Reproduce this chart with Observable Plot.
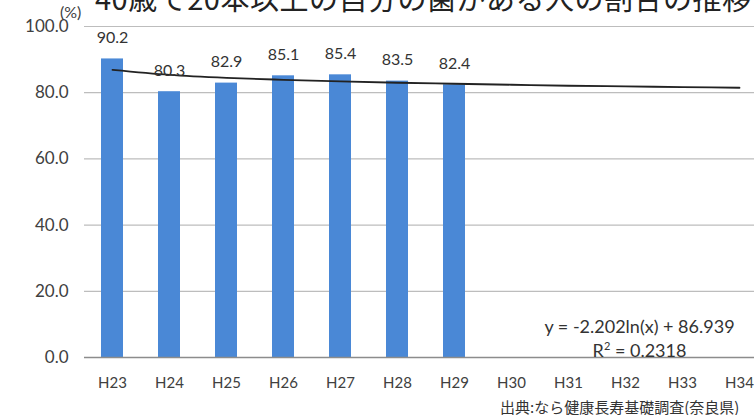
<!DOCTYPE html>
<html>
<head>
<meta charset="utf-8">
<script src="https://cdn.jsdelivr.net/npm/d3@7"></script>
<script src="https://cdn.jsdelivr.net/npm/@observablehq/plot@0.6"></script>
<style>
  html, body { margin: 0; padding: 0; background: #fff; overflow: hidden; }
  #wrap { position: relative; width: 754px; height: 415px; overflow: hidden; font-family: Lato, "Noto Sans CJK JP", sans-serif; color: #404040; }
  #title { position: absolute; left: 95px; top: -24px; font-size: 29px; white-space: nowrap; font-family: "Noto Sans CJK JP", sans-serif; color: #222; letter-spacing: 0.5px; }
  #chart { position: absolute; left: 0; top: 0; width: 780px; }
  #chart svg { max-width: none !important; }
  #caption { position: absolute; left: 500px; top: 396px; font-size: 15px; white-space: nowrap; font-family: "Noto Sans CJK JP", sans-serif; color: #333; }
  #unit { position: absolute; left: 60px; top: 2px; font-size: 16px; color: #404040; }
  #eq { position: absolute; left: 537px; top: 316px; width: 205px; font-size: 18px; text-align: center; color: #333; line-height: 20px; white-space: nowrap; }
</style>
</head>
<body>
<div id="wrap">
  <div id="title">40歳で20本以上の自分の歯がある人の割合の推移</div>
  <div id="chart"></div>
  <div id="unit">(%)</div>
  <div id="eq">y = -2.202ln(x) + 86.939<br>R<sup style="font-size:11px">2</sup> = 0.2318</div>
  <div id="caption">出典:なら健康長寿基礎調査(奈良県)</div>
</div>
<script>
const categories = ["H23","H24","H25","H26","H27","H28","H29","H30","H31","H32","H33","H34"];
const barYears = ["H23","H24","H25","H26","H27","H28","H29"];
const barValues = [90.2, 80.3, 82.9, 85.1, 85.4, 83.5, 82.4];
const trendValues = [86.9, 85.4, 84.5, 83.9, 83.4, 83.0, 82.7, 82.4, 82.1, 81.9, 81.7, 81.5];
const yTicks = [0, 20, 40, 60, 80, 100];

const bars = barYears.map((c, i) => ({cat: c, value: barValues[i]}));
const trend = categories.map((c, i) => ({cat: c, value: trendValues[i]}));

const chart = Plot.plot({
  width: 780,
  height: 400,
  marginLeft: 84,
  marginRight: 12,
  marginTop: 26,
  marginBottom: 43,
  style: {fontFamily: "Lato, sans-serif", color: "#404040", background: "transparent", maxWidth: "none"},
  x: {domain: categories, paddingInner: 0.614, paddingOuter: 0.307, label: null},
  y: {domain: [0, 100], label: null},
  marks: [
    Plot.ruleY(yTicks.slice(1), {stroke: "#bdbdbd", strokeWidth: 1.2}),
    Plot.barY(bars, {x: "cat", y: "value", fill: "#4a88d6"}),
    Plot.ruleY([0], {stroke: "#8c8c8c", strokeWidth: 1.3}),
    Plot.ruleX([0], {x: () => 0, frameAnchor: "left", stroke: "#8c8c8c", strokeWidth: 1.3}),
    Plot.line(trend, {x: "cat", y: "value", stroke: "#222", strokeWidth: 1.8, curve: "monotone-x"}),
    Plot.text(bars, {x: "cat", y: "value", text: d => d.value.toFixed(1), dy: -21, fontSize: 16, fill: "#333"}),
    Plot.axisY({ticks: yTicks, tickFormat: d => d.toFixed(1), tickSize: 0, tickPadding: 16, fontSize: 17, fill: "#404040"}),
    Plot.axisX({tickSize: 0, tickPadding: 20, fontSize: 15, fill: "#404040"})
  ]
});
document.getElementById("chart").appendChild(chart);
</script>
</body>
</html>
